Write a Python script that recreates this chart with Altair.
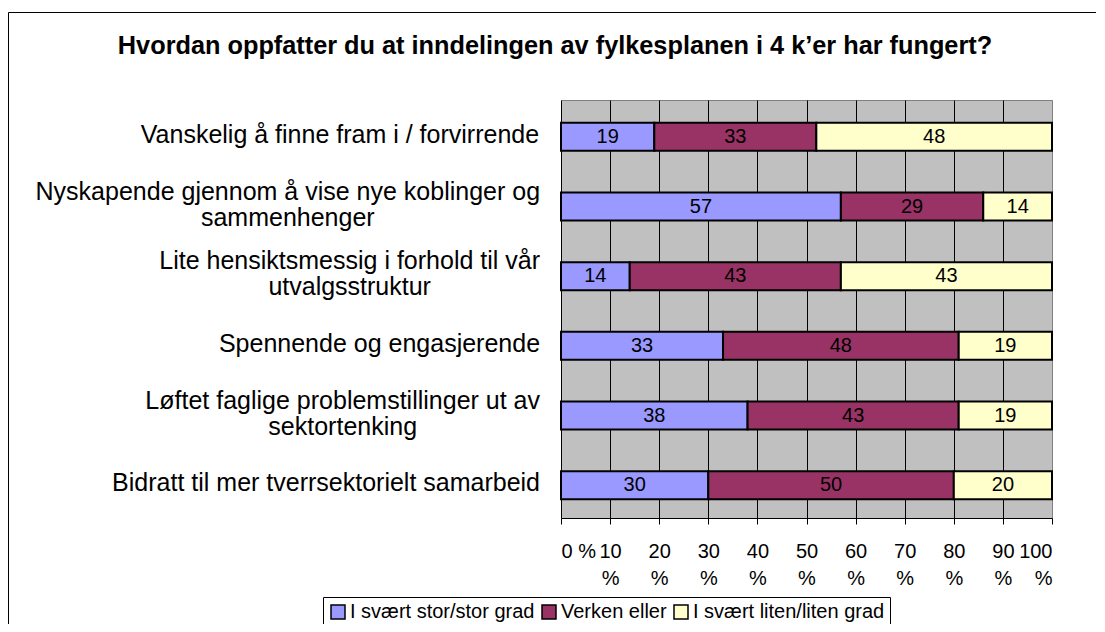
import altair as alt
import pandas as pd

title_text = "Hvordan oppfatter du at inndelingen av fylkesplanen i 4 k\u2019er har fungert?"

categories = [
    "Vanskelig å finne fram i / forvirrende",
    "Nyskapende gjennom å vise nye koblinger og\nsammenhenger",
    "Lite hensiktsmessig i forhold til vår\nutvalgsstruktur",
    "Spennende og engasjerende",
    "Løftet faglige problemstillinger ut av\nsektortenking",
    "Bidratt til mer tverrsektorielt samarbeid",
]
series = ["I svært stor/stor grad", "Verken eller", "I svært liten/liten grad"]
stor = [19, 57, 14, 33, 38, 30]
verken = [33, 29, 43, 48, 43, 50]
liten = [48, 14, 43, 19, 19, 20]
x_ticks = [0, 10, 20, 30, 40, 50, 60, 70, 80, 90, 100]
colors = ["#9999FF", "#993366", "#FFFFCC"]

FONT = "Liberation Sans"
YLAB_SIZE = 25
YLAB_LH = 26
AX_SIZE = 20
LEG_SIZE = 20
TITLE_SIZE = 25.3

# Arial / Liberation Sans advance widths (1/1000 em) used to centre wrapped labels
_w = {" ": 278, "/": 278, "a": 556, "b": 556, "d": 556, "e": 556, "f": 278, "g": 556,
      "h": 556, "i": 222, "j": 222, "k": 500, "l": 222, "m": 833, "n": 556, "o": 556,
      "p": 556, "r": 333, "s": 500, "t": 278, "u": 556, "v": 500, "y": 500, "å": 556,
      "ø": 611, "B": 667, "L": 556, "N": 722, "S": 667, "V": 667}


def text_width(s, size):
    return sum(_w.get(c, 556) for c in s) / 1000.0 * size


rows = []
for vals, s_name, k in zip([stor, verken, liten], series, range(3)):
    for c, v in zip(categories, vals):
        rows.append({"cat": c, "series": s_name, "value": v, "order": k})
df = pd.DataFrame(rows)

lab = pd.DataFrame({"cat": categories})
lab["cx"] = [-(21 + max(text_width(l, YLAB_SIZE) for l in c.split("\n")) / 2) for c in categories]
lab["multi"] = [("\n" in c) for c in categories]

y_enc = alt.Y("cat:N", sort=categories, scale=alt.Scale(paddingInner=0, paddingOuter=0),
              axis=alt.Axis(labels=False, title=None, ticks=True, tickBand="extent", tickSize=6,
                            tickColor="black", domainColor="black", grid=False))
y_plain = alt.Y("cat:N", sort=categories, axis=None)

x_scale = alt.Scale(domain=[0, 100], nice=False)

base = alt.Chart(df).transform_stack(
    stack="value", groupby=["cat"], as_=["x0", "x1"], sort=[alt.SortField("order")]
).transform_calculate(mid="(datum.x0 + datum.x1) / 2")

bars = base.mark_bar(size=28, stroke="black", strokeWidth=2, yOffset=2).encode(
    y=y_enc,
    x=alt.X("x0:Q", scale=x_scale,
            axis=alt.Axis(values=x_ticks, title=None, grid=True,
                          gridColor={"condition": {"test": "datum.value === 100", "value": "#808080"}, "value": "black"},
                          gridWidth=1, tickSize=6, tickColor="black", domainColor="black",
                          labelFontSize=AX_SIZE, labelColor="black", labelFont=FONT,
                          labelPadding=17, labelLineHeight=27,
                          labelExpr="datum.value == 0 ? '0 %' : [datum.label, '%']")),
    x2="x1:Q",
    color=alt.Color("series:N", scale=alt.Scale(domain=series, range=colors),
                    legend=alt.Legend(orient="none", legendX=-238, legendY=497, direction="horizontal",
                                      title=None, symbolType="square", symbolSize=196,
                                      symbolStrokeColor="black", symbolStrokeWidth=1.5,
                                      labelFontSize=LEG_SIZE, labelFont=FONT, labelColor="black",
                                      labelLimit=500, labelOffset=2, columnPadding=4, padding=5,
                                      strokeColor="black", fillColor="white")),
    order=alt.Order("order:Q"),
)

texts = base.mark_text(fontSize=AX_SIZE, font=FONT, color="black", baseline="middle", dy=2).encode(
    y=y_plain,
    x=alt.X("mid:Q", scale=x_scale),
    text="value:Q",
)

ylab_single = alt.Chart(lab).transform_filter("!datum.multi").mark_text(
    align="center", baseline="middle", fontSize=YLAB_SIZE, font=FONT, color="black").encode(
    y=y_plain,
    x=alt.X("cx:Q", scale=None),
    text="cat:N",
)

ylab_multi = alt.Chart(lab).transform_filter("datum.multi").mark_text(
    align="center", baseline="middle", lineBreak="\n", lineHeight=YLAB_LH, dy=-YLAB_LH / 2,
    fontSize=YLAB_SIZE, font=FONT, color="black").encode(
    y=y_plain,
    x=alt.X("cx:Q", scale=None),
    text="cat:N",
)

title = alt.Chart(alt.Data(values=[{"t": title_text}])).mark_text(
    align="center", baseline="alphabetic", fontSize=TITLE_SIZE, fontWeight="bold", font=FONT, color="black"
).encode(x=alt.value(-6), y=alt.value(-46), text="t:N")

border = alt.Chart(alt.Data(values=[{}])).mark_rect(fill="transparent", stroke="black", strokeWidth=1).encode(
    x=alt.value(-552.5), x2=alt.value(536.5), y=alt.value(-87.5), y2=alt.value(700)
)

chart = alt.layer(border, bars, texts, ylab_single, ylab_multi, title).properties(
    width=491, height=418,
    padding={"left": 553, "top": 92, "right": 44, "bottom": 106},
    autosize=alt.AutoSizeParams(type="none"),
).configure(font=FONT).configure_view(fill="#C0C0C0", stroke="#808080", strokeWidth=1)

chart.save("out.html", embed_options={"renderer": "svg", "actions": False})
